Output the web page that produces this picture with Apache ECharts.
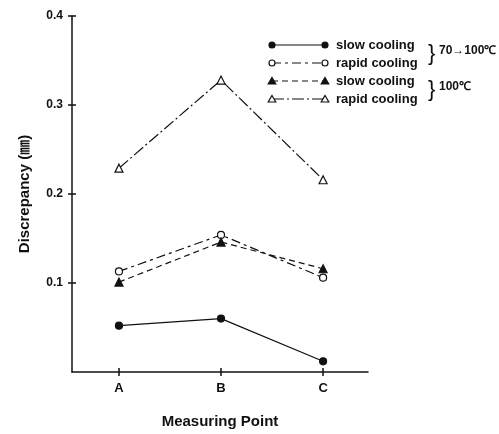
<!DOCTYPE html>
<html><head><meta charset="utf-8">
<script src="https://cdn.jsdelivr.net/npm/echarts@6/dist/echarts.min.js"></script>
<style>html,body{margin:0;padding:0;background:#fff}#c{width:499px;height:434px}</style>
</head><body><div id="c"></div>
<script>
const categories = ['A', 'B', 'C'];
const slow70 = [0.052, 0.060, 0.012];
const rapid70 = [0.113, 0.154, 0.106];
const slow100 = [0.101, 0.146, 0.116];
const rapid100 = [0.229, 0.328, 0.216];
const yTicks = [0.1, 0.2, 0.3, 0.4];
const legendLabels = ['slow cooling', 'rapid cooling', 'slow cooling', 'rapid cooling'];
const groupLabels = ['70→100℃', '100℃'];

const FONT = '"Liberation Sans", Arial, sans-serif';
const INK = '#111';
const styles = [
  {symbol: 'circle', fill: INK, dash: 'solid'},
  {symbol: 'circle', fill: '#fff', dash: [9, 4, 3, 4]},
  {symbol: 'triangle', fill: INK, dash: [6, 4]},
  {symbol: 'triangle', fill: '#fff', dash: [12, 3, 2, 3]}
];
const seriesData = [slow70, rapid70, slow100, rapid100];

const chart = echarts.init(document.getElementById('c'), null, {renderer: 'canvas'});

const series = seriesData.map((vals, i) => ({
  type: 'line',
  name: legendLabels[i] + i,
  data: vals.map((v, j) => [j, v]),
  symbol: styles[i].symbol,
  symbolSize: styles[i].symbol === 'triangle' ? 8 : 7,
  lineStyle: {color: INK, width: 1.2, type: styles[i].dash},
  itemStyle: {color: styles[i].fill, borderColor: INK, borderWidth: 1.2},
  animation: false,
  z: 3
}));

// legend graphics
const graphics = [];
const rowY = [45, 63, 81, 99];
rowY.forEach((y, i) => {
  const st = styles[i];
  graphics.push({type: 'line', shape: {x1: 272, y1: y, x2: 325, y2: y},
    style: {stroke: INK, lineWidth: 1.2, lineDash: st.dash === 'solid' ? null : st.dash}});
  [272, 325].forEach(x => {
    if (st.symbol === 'circle') {
      graphics.push({type: 'circle', shape: {cx: x, cy: y, r: 3}, style: {fill: st.fill, stroke: INK, lineWidth: 1.2}});
    } else {
      graphics.push({type: 'polygon', shape: {points: [[x, y - 3.5], [x + 3.8, y + 3], [x - 3.8, y + 3]]},
        style: {fill: st.fill, stroke: INK, lineWidth: 1.2}});
    }
  });
  graphics.push({type: 'text', x: 336, y: y, style: {text: legendLabels[i], font: 'bold 13px ' + FONT,
    fill: INK, verticalAlign: 'middle'}});
});
[[54, 0], [90, 1]].forEach(([y, k]) => {
  graphics.push({type: 'text', x: 428, y: y, style: {text: '}', font: '22px ' + FONT, fill: INK,
    verticalAlign: 'middle'}});
  graphics.push({type: 'text', x: 439, y: y - 3, style: {text: groupLabels[k], font: 'bold 12px ' + FONT,
    fill: INK, verticalAlign: 'middle'}});
});

const xBase = {
  type: 'value', min: -0.46, max: 2.44, interval: 1,
  splitLine: {show: false}
};
const yBase = {
  type: 'value', min: 0, max: 0.4, interval: 0.1,
  splitLine: {show: false}
};

chart.setOption({
  animation: false,
  backgroundColor: '#fff',
  grid: {left: 72, top: 16, width: 296, bottom: 62, containLabel: false, outerBoundsMode: 'none'},
  xAxis: [
    Object.assign({}, xBase, {
      axisLine: {show: true, onZero: false, lineStyle: {color: INK, width: 1.5}},
      axisTick: {show: true, length: 4, lineStyle: {color: INK, width: 1.5}, customValues: [0, 1, 2]},
      axisLabel: {customValues: [0, 1, 2], formatter: v => categories[Math.round(v)] || '',
        color: INK, fontFamily: FONT, fontWeight: 'bold', fontSize: 13, margin: 10},
      name: 'Measuring Point', nameLocation: 'middle', nameGap: 42,
      nameTextStyle: {color: INK, fontFamily: FONT, fontWeight: 'bold', fontSize: 15}
    }),
    Object.assign({}, xBase, {
      position: 'bottom',
      axisLine: {show: true, onZero: false, lineStyle: {color: 'rgba(0,0,0,0)'}},
      axisTick: {show: true, inside: true, length: 4, lineStyle: {color: INK, width: 1.5}, customValues: [0, 1, 2]},
      axisLabel: {show: false}
    })
  ],
  yAxis: [
    Object.assign({}, yBase, {
      axisLine: {show: true, onZero: false, lineStyle: {color: INK, width: 1.5}},
      axisTick: {show: true, length: 4, lineStyle: {color: INK, width: 1.5}, customValues: yTicks},
      axisLabel: {customValues: yTicks, formatter: v => v.toFixed(1),
        color: INK, fontFamily: FONT, fontWeight: 'bold', fontSize: 12, margin: 9},
      name: 'Discrepancy (㎜)', nameLocation: 'middle', nameGap: 40, nameRotate: 90,
      nameTextStyle: {color: INK, fontFamily: FONT + ', "Noto Sans CJK JP"', fontWeight: 'bold', fontSize: 15}
    }),
    Object.assign({}, yBase, {
      position: 'left',
      axisLine: {show: true, onZero: false, lineStyle: {color: 'rgba(0,0,0,0)'}},
      axisTick: {show: true, inside: true, length: 4, lineStyle: {color: INK, width: 1.5}, customValues: yTicks},
      axisLabel: {show: false}
    })
  ],
  series: series,
  graphic: graphics
});
</script></body></html>
